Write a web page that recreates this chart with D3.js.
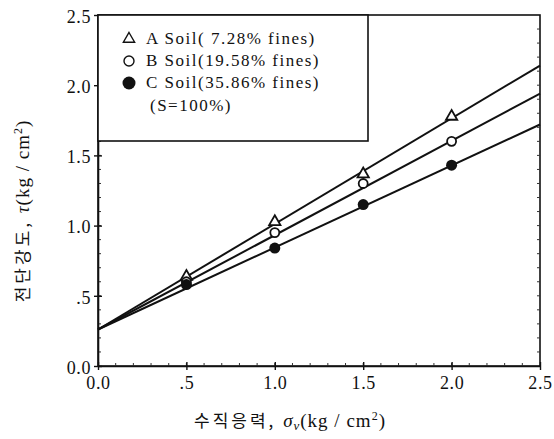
<!DOCTYPE html>
<html>
<head>
<meta charset="utf-8">
<script src="https://cdn.jsdelivr.net/npm/d3@7"></script>
<style>
  body { margin: 0; background: #fff; }
  svg { display: block; }
  .tick text { font-family: "Liberation Serif", "Times New Roman", serif; font-size: 18px; letter-spacing: 0.6px; fill: #111; }
</style>
</head>
<body>
<svg id="chart"></svg>
<script>
// Data
var stressLevels = [0.5, 1.0, 1.5, 2.0];          // normal stress (kg/cm2)
var soilA = [0.63, 1.02, 1.36, 1.77];            // triangles
var soilB = [0.60, 0.95, 1.30, 1.60];            // open circles
var soilC = [0.58, 0.84, 1.15, 1.43];            // filled circles
// fitted lines: value at sigma = 0 and at sigma = 2.5
var fitStart = [0.26, 0.26, 0.26];
var fitEnd = [2.14, 1.94, 1.72];
var seriesNames = ["A Soil( 7.28% fines)", "B Soil(19.58% fines)", "C Soil(35.86% fines)"];
var tickValues = [0, 0.5, 1.0, 1.5, 2.0, 2.5];
var tickLabels = ["0.0", ".5", "1.0", "1.5", "2.0", "2.5"];

var serif = "Liberation Serif, Times New Roman, serif";
var svgWidth = 554, svgHeight = 439;
var svg = d3.select("#chart").attr("width", svgWidth).attr("height", svgHeight);

var xScale = d3.scaleLinear().domain([0, 2.5]).range([98, 540]);
var yScale = d3.scaleLinear().domain([0, 2.5]).range([366, 15]);

// frame
svg.append("rect")
  .attr("x", xScale(0)).attr("y", yScale(2.5))
  .attr("width", xScale(2.5) - xScale(0)).attr("height", yScale(0) - yScale(2.5))
  .attr("fill", "none").attr("stroke", "#111").attr("stroke-width", 1.6);

// minor ticks
var minor = d3.range(0.1, 2.45, 0.1);
svg.append("g").selectAll("line.mx").data(minor).enter().append("line")
  .attr("x1", function (d) { return xScale(d); }).attr("x2", function (d) { return xScale(d); })
  .attr("y1", yScale(0)).attr("y2", yScale(0) - 3)
  .attr("stroke", "#333").attr("stroke-width", 1);
svg.append("g").selectAll("line.my").data(minor).enter().append("line")
  .attr("y1", function (d) { return yScale(d); }).attr("y2", function (d) { return yScale(d); })
  .attr("x1", xScale(0)).attr("x2", xScale(0) + 3)
  .attr("stroke", "#333").attr("stroke-width", 1);
svg.append("g").selectAll("line.mr").data(minor).enter().append("line")
  .attr("y1", function (d) { return yScale(d); }).attr("y2", function (d) { return yScale(d); })
  .attr("x1", xScale(2.5)).attr("x2", xScale(2.5) - 3)
  .attr("stroke", "#333").attr("stroke-width", 1);

// axes
var xAxis = svg.append("g")
  .attr("transform", "translate(0," + yScale(0) + ")")
  .call(d3.axisBottom(xScale).tickValues(tickValues)
    .tickFormat(function (d, i) { return tickLabels[i]; })
    .tickSizeInner(4).tickSizeOuter(0).tickPadding(6));
xAxis.select(".domain").attr("stroke-width", 1.6).attr("stroke", "#111");
xAxis.selectAll(".tick line").attr("y1", -4).attr("stroke-width", 1.4).attr("stroke", "#111");

var yAxis = svg.append("g")
  .attr("transform", "translate(" + xScale(0) + ",0)")
  .call(d3.axisLeft(yScale).tickValues(tickValues)
    .tickFormat(function (d, i) { return tickLabels[i]; })
    .tickSizeInner(4).tickSizeOuter(0).tickPadding(3));
yAxis.select(".domain").attr("stroke-width", 1.6).attr("stroke", "#111");
yAxis.selectAll(".tick line").attr("x1", 4).attr("x2", -4).attr("stroke-width", 1.4).attr("stroke", "#111");
yAxis.selectAll(".tick text").attr("dy", "0.4em");

// fitted lines
fitStart.forEach(function (v, i) {
  svg.append("line")
    .attr("x1", xScale(0)).attr("y1", yScale(v))
    .attr("x2", xScale(2.5)).attr("y2", yScale(fitEnd[i]))
    .attr("stroke", "#111").attr("stroke-width", 2);
});

// markers
var tri = d3.symbol().type(d3.symbolTriangle).size(55);
svg.append("g").selectAll("path").data(soilA).enter().append("path")
  .attr("d", tri)
  .attr("transform", function (d, i) { return "translate(" + xScale(stressLevels[i]) + "," + (yScale(d) - 1) + ")"; })
  .attr("fill", "#fff").attr("stroke", "#111").attr("stroke-width", 1.8);
svg.append("g").selectAll("circle").data(soilB).enter().append("circle")
  .attr("cx", function (d, i) { return xScale(stressLevels[i]); })
  .attr("cy", function (d) { return yScale(d); })
  .attr("r", 4.5).attr("fill", "#fff").attr("stroke", "#111").attr("stroke-width", 1.8);
svg.append("g").selectAll("circle").data(soilC).enter().append("circle")
  .attr("cx", function (d, i) { return xScale(stressLevels[i]); })
  .attr("cy", function (d) { return yScale(d); })
  .attr("r", 5.5).attr("fill", "#111");

// legend box
var legend = svg.append("g");
legend.append("rect")
  .attr("x", xScale(0)).attr("y", yScale(2.5))
  .attr("width", 270).attr("height", 126)
  .attr("fill", "#fff").attr("stroke", "#111").attr("stroke-width", 1.6);
var rowY = [44, 66, 88];
legend.append("path").attr("d", tri)
  .attr("transform", "translate(129," + (rowY[0] - 5) + ")")
  .attr("fill", "#fff").attr("stroke", "#111").attr("stroke-width", 1.4);
legend.append("circle").attr("cx", 129).attr("cy", rowY[1] - 5).attr("r", 5)
  .attr("fill", "#fff").attr("stroke", "#111").attr("stroke-width", 1.4);
legend.append("circle").attr("cx", 129).attr("cy", rowY[2] - 5).attr("r", 6.5).attr("fill", "#111");
seriesNames.forEach(function (name, i) {
  legend.append("text")
    .attr("x", 146).attr("y", rowY[i])
    .attr("xml:space", "preserve")
    .style("white-space", "pre")
    .style("font-family", serif).style("font-size", "17px").style("letter-spacing", "1.5px").attr("fill", "#111")
    .text(name);
});
legend.append("text")
  .attr("x", 150).attr("y", 111)
  .style("font-family", serif).style("font-size", "17px").style("letter-spacing", "1.5px").attr("fill", "#111")
  .text("(S=100%)");

// axis titles
var xt = svg.append("text")
  .attr("x", 290).attr("y", 427).attr("text-anchor", "middle")
  .style("font-family", serif).style("font-size", "19px").style("letter-spacing", "1px").attr("fill", "#111");
xt.append("tspan").style("font-family", "Noto Sans CJK KR").style("font-size", "17px").style("letter-spacing", "3px").text("수직응력, ");
xt.append("tspan").style("font-style", "italic").text("σ");
xt.append("tspan").attr("dy", 3).style("font-size", "13px").style("font-style", "italic").text("v");
xt.append("tspan").attr("dy", -3).text("(kg / cm");
xt.append("tspan").attr("dy", -7).style("font-size", "12px").text("2");
xt.append("tspan").attr("dy", 7).text(")");

var yt = svg.append("text")
  .attr("transform", "translate(29,211) rotate(-90)").attr("text-anchor", "middle")
  .style("font-family", serif).style("font-size", "19px").style("letter-spacing", "1px").attr("fill", "#111");
yt.append("tspan").style("font-family", "Noto Sans CJK KR").style("font-size", "17px").style("letter-spacing", "3px").text("전단강도, ");
yt.append("tspan").style("font-style", "italic").text("τ");
yt.append("tspan").text("(kg / cm");
yt.append("tspan").attr("dy", -7).style("font-size", "12px").text("2");
yt.append("tspan").attr("dy", 7).text(")");
</script>
</body>
</html>
